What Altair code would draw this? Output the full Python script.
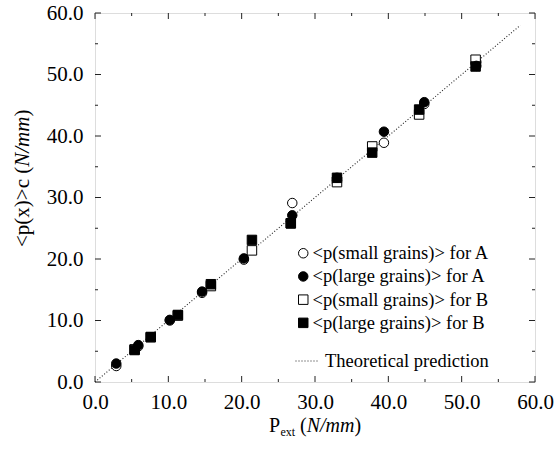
import altair as alt
import pandas as pd

# ---------------- data ----------------
series_names = [
    "<p(small grains)> for A",
    "<p(large grains)> for A",
    "<p(small grains)> for B",
    "<p(large grains)> for B",
]
A_x = [2.9, 5.9, 10.2, 14.6, 20.3, 26.9, 33.0, 39.4, 44.9, 52.0]
A_small = [2.6, 5.8, 10.0, 14.5, 19.9, 29.1, 32.8, 38.9, 45.2, 52.0]
A_large = [3.0, 6.0, 10.1, 14.7, 20.1, 27.1, 33.2, 40.7, 45.5, 51.4]
B_x = [5.4, 7.6, 11.3, 15.8, 21.4, 26.7, 33.0, 37.8, 44.2, 51.9]
B_small = [5.3, 7.3, 10.8, 15.6, 21.4, 25.8, 32.5, 38.3, 43.5, 52.4]
B_large = [5.2, 7.3, 10.9, 15.9, 23.1, 25.8, 33.2, 37.3, 44.3, 51.3]

theory_name = "Theoretical prediction"
theory_x = [0.0, 58.0]
theory_y = [0.0, 58.0]

major_ticks = [0, 10, 20, 30, 40, 50, 60]
minor_ticks = [5, 15, 25, 35, 45, 55]

# ---------------- layout ----------------
W, H = 440, 369
FONT = "Liberation Serif"

rows = []
for order, (name, xs, ys) in enumerate([
    (series_names[0], A_x, A_small),
    (series_names[2], B_x, B_small),
    (series_names[1], A_x, A_large),
    (series_names[3], B_x, B_large),
]):
    for xv, yv in zip(xs, ys):
        rows.append({"x": xv, "y": yv, "series": name, "ord": order})
df = pd.DataFrame(rows)
theory_df = pd.DataFrame({"x": theory_x, "y": theory_y, "name": [theory_name] * 2})

xscale = alt.Scale(domain=[0, 60], nice=False, zero=False)
yscale = alt.Scale(domain=[0, 60], nice=False, zero=False)

axis_common = dict(
    values=major_ticks, format=".1f", ticks=False, domain=False, grid=False,
    labelFont=FONT, labelFontSize=21, labelColor="black", title=None,
    labelFlush=False, labelOverlap=False,
)
xaxis = alt.Axis(labelPadding=9, **axis_common)
yaxis = alt.Axis(labelPadding=12, **axis_common)

leg_points = alt.Legend(
    title=None, orient="none", legendX=199, legendY=231, padding=0,
    labelFont=FONT, labelFontSize=18.5, labelColor="black", labelOffset=0,
    symbolStrokeColor="black", symbolStrokeWidth=1, symbolSize=90,
    rowPadding=4.2, labelLimit=400,
)
leg_line = alt.Legend(
    title=None, orient="none", legendX=200, legendY=336, padding=0,
    labelFont=FONT, labelFontSize=18.5, labelColor="black", labelOffset=6,
    symbolType="stroke", symbolStrokeColor="#222", symbolStrokeWidth=1,
    symbolSize=529, labelLimit=400,
)

line = alt.Chart(theory_df).mark_line(color="#222", strokeWidth=1.1).encode(
    x=alt.X("x:Q", scale=xscale, axis=xaxis),
    y=alt.Y("y:Q", scale=yscale, axis=yaxis),
    strokeDash=alt.StrokeDash("name:N", scale=alt.Scale(domain=[theory_name], range=[[1, 2]]),
                              legend=leg_line),
)

points = alt.Chart(df).mark_point(
    filled=False, size=90, color="black", strokeWidth=1, opacity=1
).encode(
    x=alt.X("x:Q", scale=xscale, axis=xaxis),
    y=alt.Y("y:Q", scale=yscale, axis=yaxis),
    shape=alt.Shape("series:N", scale=alt.Scale(domain=series_names,
                    range=["circle", "circle", "square", "square"]), legend=leg_points),
    fill=alt.Fill("series:N", scale=alt.Scale(domain=series_names,
                  range=["white", "black", "white", "black"]), legend=leg_points),
    stroke=alt.Stroke("series:N", scale=alt.Scale(domain=series_names,
                      range=["black", "black", "black", "black"]), legend=leg_points),
    order=alt.Order("ord:Q"),
)

# inward ticks on all four sides
def xticks(vals, length):
    d = pd.DataFrame({"v": vals})
    bottom = alt.Chart(d).mark_rule(color="#222", strokeWidth=1).encode(
        x=alt.X("v:Q", scale=xscale, axis=xaxis), y=alt.value(H), y2=alt.value(H - length))
    top = alt.Chart(d).mark_rule(color="#222", strokeWidth=1).encode(
        x=alt.X("v:Q", scale=xscale, axis=xaxis), y=alt.value(0), y2=alt.value(length))
    return [bottom, top]

def yticks(vals, length):
    d = pd.DataFrame({"v": vals})
    left = alt.Chart(d).mark_rule(color="#222", strokeWidth=1).encode(
        y=alt.Y("v:Q", scale=yscale, axis=yaxis), x=alt.value(0), x2=alt.value(length))
    right = alt.Chart(d).mark_rule(color="#222", strokeWidth=1).encode(
        y=alt.Y("v:Q", scale=yscale, axis=yaxis), x=alt.value(W), x2=alt.value(W - length))
    return [left, right]

tick_layers = xticks(major_ticks, 6) + xticks(minor_ticks, 3) + yticks(major_ticks, 6) + yticks(minor_ticks, 3)

# axis titles (mixed upright / italic / subscript)
dummy = pd.DataFrame({"a": [0]})

def txt(text, x, y, size, italic=False, angle=0):
    kw = dict(text=text, font=FONT, fontSize=size, color="black", align="left",
              baseline="alphabetic" if angle == 0 else "middle")
    if italic:
        kw["fontStyle"] = "italic"
    if angle:
        kw["angle"] = angle
    return alt.Chart(dummy).mark_text(**kw).encode(x=alt.value(x), y=alt.value(y))

x_title = [
    txt("P", 174, 419, 20),
    txt("ext", 185.5, 423, 12),
    txt("(", 205, 419, 20),
    txt("N/mm", 211.7, 419, 20, italic=True),
    txt(")", 259.5, 419, 20),
]
y_title = [
    txt("<p(x)>c (", -72, 234, 21, angle=270),
    txt("N/mm", -72, 153.8, 21, italic=True, angle=270),
    txt(")", -72, 103.6, 21, angle=270),
]

chart = alt.layer(line, *tick_layers, points, *x_title, *y_title).properties(
    width=W, height=H,
    autosize=alt.AutoSizeParams(type="none"),
    padding={"left": 95, "top": 13, "right": 21, "bottom": 67},
).configure_view(stroke="#333", strokeWidth=1).configure(background="white")

chart.save("out.html", embed_options={"renderer": "svg", "actions": False})
